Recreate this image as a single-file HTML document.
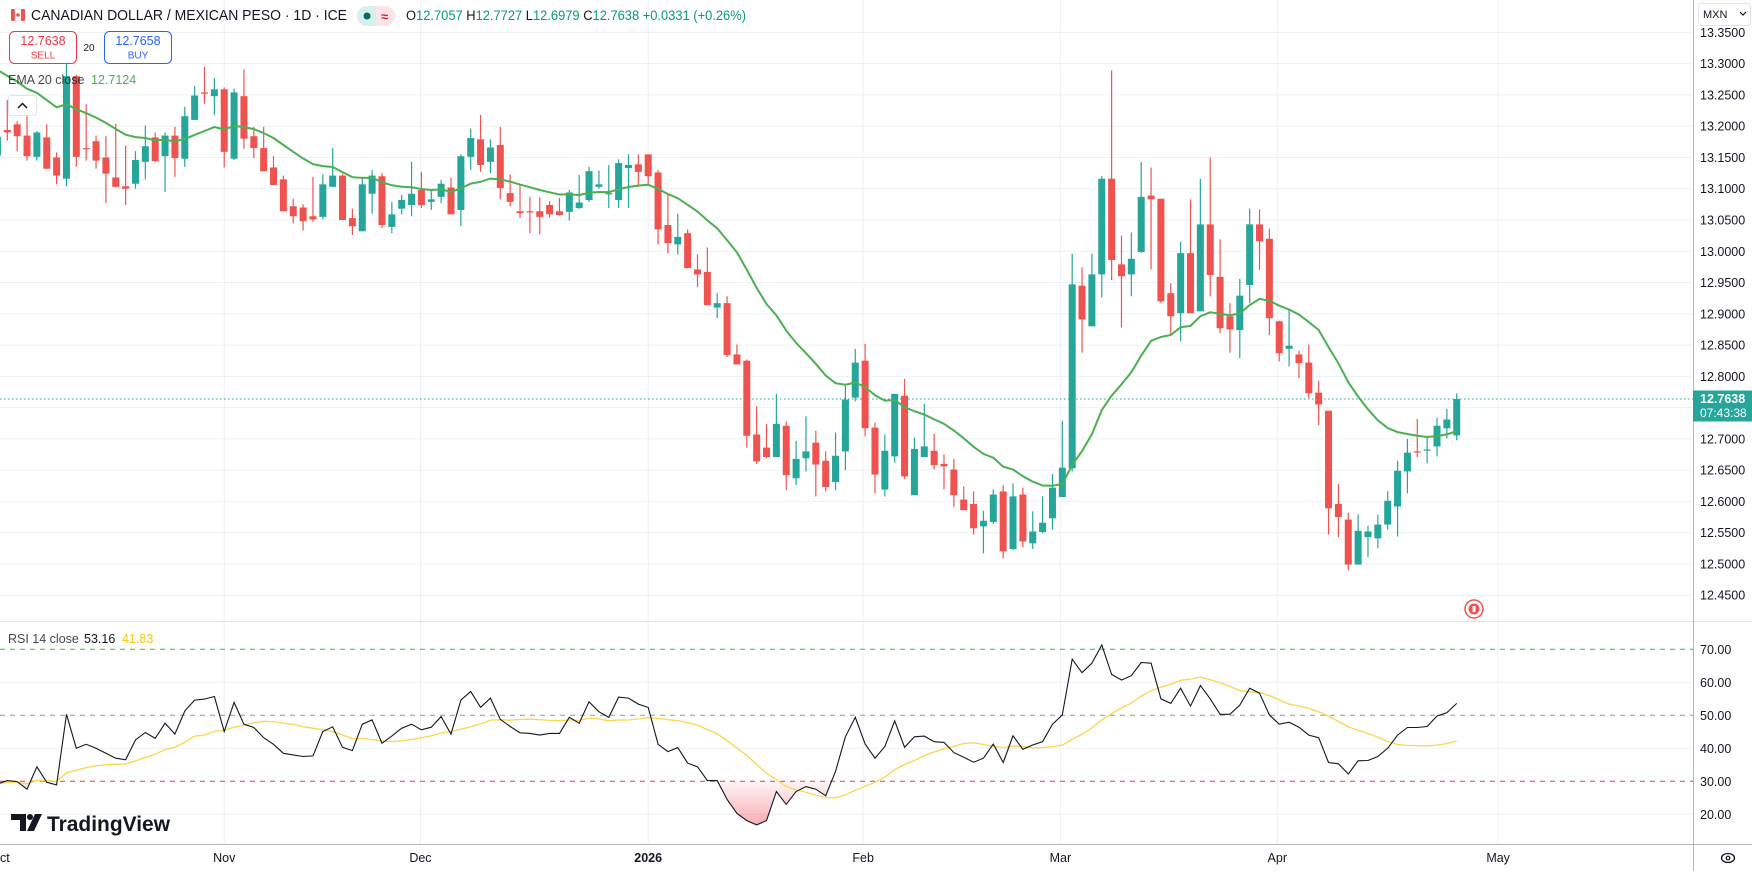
<!DOCTYPE html>
<html><head><meta charset="utf-8"><title>CADMXN chart</title>
<style>
html,body{margin:0;padding:0;background:#fff;width:1752px;height:871px;overflow:hidden}
svg{display:block;font-family:"Liberation Sans",sans-serif}
</style></head>
<body>
<svg id="chart" width="1752" height="871" viewBox="0 0 1752 871" xmlns="http://www.w3.org/2000/svg">
<defs>
<linearGradient id="osGrad" gradientUnits="userSpaceOnUse" x1="0" y1="781.3" x2="0" y2="830">
<stop offset="0" stop-color="#f23645" stop-opacity="0.05"/>
<stop offset="1" stop-color="#f23645" stop-opacity="0.45"/>
</linearGradient>
<linearGradient id="obGrad" gradientUnits="userSpaceOnUse" x1="0" y1="649.3" x2="0" y2="630">
<stop offset="0" stop-color="#089981" stop-opacity="0.05"/>
<stop offset="1" stop-color="#089981" stop-opacity="0.4"/>
</linearGradient>
<clipPath id="belowOS"><rect x="0" y="781.3" width="1693" height="63"/></clipPath>
<clipPath id="aboveOB"><rect x="0" y="622" width="1693" height="27.3"/></clipPath>
<clipPath id="pricePane"><rect x="0" y="0" width="1693" height="621"/></clipPath>
<clipPath id="rsiPane"><rect x="0" y="622" width="1693" height="222"/></clipPath>
</defs>
<g id="grid"></g>
<g id="priceGroup" clip-path="url(#pricePane)"></g>
<g id="rsiGroup" clip-path="url(#rsiPane)"></g>
<g id="axes"></g>

<g>
  <g>
    <rect x="11" y="9" width="4" height="12" rx="1" fill="#ef5350"/>
    <rect x="15" y="9" width="6" height="12" fill="#fff" stroke="#f5c6c6" stroke-width="0.5"/>
    <rect x="21" y="9" width="4" height="12" rx="1" fill="#ef5350"/>
    <circle cx="18" cy="15" r="1.8" fill="#ef5350"/>
  </g>
  <text x="31" y="20" font-size="14.5" fill="#131722" textLength="316" lengthAdjust="spacingAndGlyphs">CANADIAN DOLLAR / MEXICAN PESO · 1D · ICE</text>
  <g>
    <rect x="357" y="6" width="38" height="20" rx="10" fill="#d6f0ec"/>
    <path d="M376 6 h9 a10 10 0 0 1 0 20 h-9 z" fill="#fde4e7"/>
    <circle cx="367" cy="16" r="3.5" fill="#0c6b5e"/>
    <text x="381" y="21" font-size="13" fill="#d81b3c" font-weight="bold">≈</text>
  </g>
  <text x="406" y="20" font-size="13.5" fill="#089981" textLength="340" lengthAdjust="spacingAndGlyphs"><tspan fill="#131722">O</tspan>12.7057 <tspan fill="#131722">H</tspan>12.7727 <tspan fill="#131722">L</tspan>12.6979 <tspan fill="#131722">C</tspan>12.7638 +0.0331 (+0.26%)</text>

  <g>
    <rect x="9.5" y="31.5" width="67" height="32" rx="5" fill="#fff" stroke="#f23645"/>
    <text x="43" y="45" font-size="12.5" fill="#f23645" text-anchor="middle">12.7638</text>
    <text x="43" y="58.5" font-size="10" fill="#f23645" text-anchor="middle">SELL</text>
  </g>
  <text x="89" y="51" font-size="10" fill="#131722" text-anchor="middle">20</text>
  <g>
    <rect x="104.5" y="31.5" width="67" height="32" rx="5" fill="#fff" stroke="#2962ff"/>
    <text x="138" y="45" font-size="12.5" fill="#2962ff" text-anchor="middle">12.7658</text>
    <text x="138" y="58.5" font-size="10" fill="#2962ff" text-anchor="middle">BUY</text>
  </g>
  <g>
    <text x="8" y="84" font-size="12.5" fill="#131722" fill-opacity="0.8">EMA 20 close</text>
    <text x="91" y="84" font-size="12.5" fill="#4caf50">12.7124</text>
  </g>
  <g>
    <rect x="8.5" y="95.5" width="28" height="20" rx="3" fill="#fff" stroke="#e0e3eb"/>
    <path d="M18 108 l4.5 -4.5 l4.5 4.5" fill="none" stroke="#131722" stroke-width="1.5"/>
  </g>
</g>

<g>
  <text x="8" y="643" font-size="12.5" fill="#131722" fill-opacity="0.8">RSI 14 close</text>
  <text x="84" y="643" font-size="12.5" fill="#131722">53.16</text>
  <text x="122" y="643" font-size="12.5" fill="#f9c80e">41.83</text>
</g>

<g>
  <path d="M11 814 h15 v17 h-6 v-11 h-9 z" fill="#131722"/>
  <circle cx="30" cy="817" r="3" fill="#131722"/>
  <path d="M35 814 h7 l-8 17 h-7 z" fill="#131722"/>
  <text x="47" y="831" font-size="21" font-weight="bold" fill="#131722" textLength="123" lengthAdjust="spacingAndGlyphs">TradingView</text>
</g>

<g>
  <circle cx="1474" cy="609" r="9" fill="#fff" stroke="#ef5350" stroke-width="1.5"/>
  <circle cx="1474" cy="609" r="5.5" fill="#ef5350"/>
  <rect x="1472.5" y="606" width="3" height="6" fill="#fff"/>
</g>

<g>
  <rect x="1698.5" y="3.5" width="52" height="22" rx="3" fill="#fff" stroke="#e0e3eb"/>
  <text x="1703" y="18" font-size="11" fill="#131722">MXN</text>
  <path d="M1740 12 l3 3 l3 -3" fill="none" stroke="#131722" stroke-width="1.2"/>
</g>
<g>
  <ellipse cx="1728" cy="858" rx="6.5" ry="4.5" fill="none" stroke="#131722" stroke-width="1.3"/>
  <circle cx="1728" cy="858" r="1.8" fill="none" stroke="#131722" stroke-width="1.2"/>
</g>
</svg>
<script>
const opens=[13.153,13.194,13.203,13.185,13.151,13.182,13.150,13.116,13.280,13.165,13.176,13.150,13.118,13.104,13.108,13.143,13.182,13.152,13.185,13.148,13.210,13.254,13.248,13.259,13.148,13.248,13.184,13.165,13.134,13.115,13.072,13.070,13.056,13.055,13.103,13.121,13.053,13.032,13.092,13.120,13.039,13.068,13.074,13.098,13.079,13.087,13.102,13.066,13.151,13.179,13.143,13.170,13.093,13.064,13.064,13.064,13.074,13.064,13.063,13.069,13.082,13.103,13.092,13.082,13.133,13.139,13.155,13.126,13.042,13.011,13.029,12.971,12.967,12.910,12.917,12.835,12.825,12.707,12.686,12.671,12.721,12.637,12.669,12.694,12.665,12.631,12.680,12.766,12.825,12.718,12.619,12.672,12.769,12.610,12.671,12.681,12.660,12.651,12.603,12.596,12.560,12.567,12.616,12.524,12.611,12.533,12.551,12.573,12.607,12.653,12.945,12.880,12.963,13.116,12.979,12.963,12.999,13.089,13.084,12.933,12.901,12.997,12.904,13.043,12.959,12.896,12.874,12.946,13.043,13.020,12.888,12.844,12.835,12.822,12.774,12.745,12.596,12.571,12.499,12.543,12.541,12.563,12.592,12.648,12.680,12.682,12.688,12.717,12.7057];
const highs=[13.190,13.242,13.208,13.231,13.192,13.203,13.158,13.305,13.282,13.235,13.185,13.184,13.204,13.169,13.160,13.201,13.190,13.190,13.199,13.231,13.264,13.295,13.277,13.262,13.260,13.291,13.199,13.199,13.152,13.121,13.084,13.075,13.119,13.123,13.165,13.124,13.068,13.118,13.130,13.125,13.079,13.090,13.143,13.127,13.097,13.114,13.118,13.155,13.196,13.218,13.179,13.199,13.123,13.106,13.087,13.086,13.080,13.085,13.098,13.122,13.135,13.129,13.138,13.147,13.155,13.155,13.155,13.130,13.092,13.060,13.035,12.995,13.006,12.933,12.928,12.851,12.827,12.752,12.724,12.772,12.728,12.697,12.736,12.713,12.680,12.710,12.785,12.844,12.852,12.726,12.707,12.772,12.796,12.702,12.756,12.708,12.675,12.668,12.624,12.616,12.585,12.619,12.626,12.629,12.622,12.584,12.608,12.644,12.729,12.996,12.974,12.996,13.120,13.289,13.025,13.030,13.143,13.134,13.084,12.949,13.015,13.083,13.116,13.150,13.019,12.917,12.956,13.068,13.067,13.036,12.889,12.907,12.841,12.851,12.793,12.745,12.628,12.582,12.579,12.561,12.579,12.616,12.665,12.700,12.732,12.705,12.734,12.748,12.7727];
const lows=[13.140,13.177,13.160,13.145,13.145,13.132,13.107,13.104,13.135,13.145,13.132,13.077,13.103,13.074,13.100,13.115,13.143,13.095,13.119,13.135,13.210,13.236,13.218,13.134,13.146,13.164,13.149,13.128,13.106,13.064,13.045,13.033,13.047,13.051,13.103,13.050,13.026,13.032,13.060,13.037,13.029,13.059,13.056,13.069,13.066,13.077,13.059,13.040,13.130,13.127,13.125,13.083,13.072,13.053,13.029,13.027,13.054,13.057,13.049,13.068,13.079,13.100,13.069,13.069,13.069,13.104,13.108,13.011,12.997,12.995,12.973,12.943,12.914,12.893,12.831,12.819,12.686,12.660,12.669,12.671,12.618,12.626,12.648,12.608,12.616,12.618,12.650,12.760,12.704,12.613,12.608,12.662,12.636,12.610,12.671,12.651,12.619,12.591,12.586,12.547,12.517,12.564,12.509,12.522,12.527,12.524,12.549,12.555,12.607,12.648,12.838,12.880,12.926,12.954,12.878,12.928,12.997,12.971,12.917,12.867,12.856,12.901,12.904,12.928,12.869,12.838,12.829,12.917,12.970,12.866,12.824,12.816,12.797,12.765,12.722,12.547,12.543,12.490,12.499,12.511,12.525,12.555,12.544,12.613,12.671,12.661,12.672,12.701,12.6979];
const closes=[13.183,13.190,13.184,13.152,13.190,13.132,13.121,13.280,13.151,13.164,13.145,13.124,13.103,13.100,13.146,13.168,13.144,13.185,13.149,13.216,13.249,13.252,13.259,13.159,13.254,13.180,13.165,13.128,13.106,13.064,13.056,13.048,13.051,13.107,13.121,13.050,13.040,13.107,13.121,13.042,13.059,13.082,13.092,13.074,13.083,13.108,13.059,13.152,13.181,13.138,13.166,13.101,13.079,13.061,13.063,13.055,13.059,13.058,13.094,13.078,13.128,13.107,13.093,13.141,13.138,13.127,13.120,13.035,13.013,13.023,12.973,12.963,12.914,12.917,12.834,12.819,12.705,12.664,12.671,12.724,12.642,12.668,12.680,12.659,12.623,12.673,12.763,12.822,12.717,12.643,12.681,12.772,12.640,12.684,12.688,12.658,12.656,12.610,12.586,12.557,12.569,12.611,12.520,12.608,12.536,12.552,12.566,12.622,12.654,12.947,12.891,12.963,13.116,12.986,12.960,12.988,13.087,13.083,12.920,12.896,12.997,12.901,13.043,12.962,12.877,12.875,12.929,13.043,13.016,12.893,12.837,12.849,12.821,12.773,12.755,12.589,12.575,12.499,12.553,12.552,12.563,12.601,12.649,12.678,12.679,12.683,12.721,12.731,12.7638];
const rsiValues=[29.2,30.2,29.9,27.6,34.4,29.7,28.9,50.3,40.0,41.2,40.0,38.5,37.0,36.5,42.5,44.8,43.0,47.6,44.3,51.3,54.6,54.9,55.7,45.1,53.9,47.3,46.3,43.2,41.2,38.5,38.0,37.5,37.7,45.1,46.5,40.3,39.3,47.3,48.6,41.5,43.7,46.1,47.3,45.6,46.4,49.6,44.3,54.6,57.2,52.4,55.2,48.8,46.6,44.7,44.5,44.0,44.5,44.5,49.4,47.6,54.1,51.1,49.4,55.5,55.2,53.4,52.4,41.2,39.0,40.2,35.5,34.4,30.2,30.2,24.5,20.3,18.1,16.8,18.1,26.9,23.0,26.9,28.4,27.6,25.6,33.0,43.5,49.4,41.3,37.0,40.5,48.3,40.3,43.5,43.7,42.0,41.8,38.7,37.3,35.8,37.0,41.3,35.7,43.8,39.7,41.0,42.0,47.3,50.1,67.0,62.9,65.8,71.3,62.4,60.7,62.0,66.0,65.8,55.0,53.6,58.2,52.8,59.0,55.0,50.3,50.3,53.1,58.2,56.7,50.1,47.3,47.9,46.4,44.0,43.2,35.7,35.3,32.2,36.2,36.3,37.5,40.0,44.0,46.3,46.3,46.6,49.8,50.8,53.6];
const emaSeed=13.29;
const emaPeriod=20;
const rsiMaPeriod=14;
const priceTicks=[13.35,13.30,13.25,13.20,13.15,13.10,13.05,13.00,12.95,12.90,12.85,12.80,12.75,12.70,12.65,12.60,12.55,12.50,12.45];
const rsiTicks=[70,60,50,40,30,20];
const monthLabels=["ct","Nov","Dec","2026","Feb","Mar","Apr","May"];
const monthBarIndex=[-0.9,23,42.9,66,87.8,107.8,129.8,152.2];
const lastPrice=12.7638;
const countdown="07:43:38";

const NS="http://www.w3.org/2000/svg";
const xOf=i=>-2.56+9.86*i;
const yP=p=>63.65+(13.3-p)*625.4;
const yR=v=>649.3+(70-v)*3.3;
const AX=1693;
function mk(tag,attrs,parent){const e=document.createElementNS(NS,tag);for(const k in attrs)e.setAttribute(k,attrs[k]);parent.appendChild(e);return e;}
const grid=document.getElementById('grid'),pg=document.getElementById('priceGroup'),rg=document.getElementById('rsiGroup'),axes=document.getElementById('axes');

priceTicks.forEach(p=>{const l=mk('line',{x1:0,x2:AX,y1:yP(p),y2:yP(p),stroke:'#edf0f4','stroke-width':1},grid);

});
[60,40,20].forEach(v=>{const l=mk('line',{x1:0,x2:AX,y1:yR(v),y2:yR(v),stroke:'#edf0f4','stroke-width':1},grid);

});
monthBarIndex.forEach((bi,k)=>{if(k===0)return;const x=xOf(bi);const l=mk('line',{x1:x,x2:x,y1:0,y2:844,stroke:'#edf0f4','stroke-width':1},grid);

});

const dl=mk('line',{x1:0,x2:AX,y1:yP(lastPrice),y2:yP(lastPrice),stroke:'#26a69a','stroke-width':1,'stroke-dasharray':'1.5 2.5'},pg);



for(let i=0;i<closes.length;i++){
  const o=opens[i],h=highs[i],l=lows[i],c=closes[i];
  const col=c>=o?'#26a69a':'#ef5350';
  const x=xOf(i);
  const g=mk('g',{},pg);
  
  
  mk('line',{x1:x,x2:x,y1:yP(h),y2:yP(l),stroke:col,'stroke-width':1.2},g);
  const top=yP(Math.max(o,c)),bot=yP(Math.min(o,c));
  mk('rect',{x:x-3.5,y:top,width:7,height:Math.max(1.2,bot-top),fill:col},g);
}
const ema=[];closes.forEach((c,i)=>{ema.push(i===0?emaSeed:(c*2/(emaPeriod+1)+ema[i-1]*(1-2/(emaPeriod+1))));});
const emaPath=mk('polyline',{points:ema.map((v,i)=>xOf(i).toFixed(1)+','+yP(v).toFixed(1)).join(' '),fill:'none',stroke:'#4caf50','stroke-width':2},pg);



[[70,'#4caf50','rsi-overbought-line'],[50,'#9598a1','rsi-midline'],[30,'#f23645','rsi-oversold-line']].forEach(([v,c,n])=>{
  const l=mk('line',{x1:0,x2:AX,y1:yR(v),y2:yR(v),stroke:c,'stroke-width':1,'stroke-dasharray':'5 5'},rg);
  
  
});
const rsiPts=rsiValues.map((v,i)=>xOf(i).toFixed(1)+','+yR(v).toFixed(1));
const xs=xOf(0),xe=xOf(rsiValues.length-1);
const osFill=mk('path',{d:'M'+xs+','+yR(30)+' L'+rsiPts.join(' L')+' L'+xe+','+yR(30)+' Z',fill:'url(#osGrad)','clip-path':'url(#belowOS)'},rg);


const obFill=mk('path',{d:'M'+xs+','+yR(70)+' L'+rsiPts.join(' L')+' L'+xe+','+yR(70)+' Z',fill:'url(#obGrad)','clip-path':'url(#aboveOB)'},rg);


const rsiMa=rsiValues.map((v,i)=>{const s=rsiValues.slice(Math.max(0,i-rsiMaPeriod+1),i+1);return s.reduce((a,b)=>a+b,0)/s.length;});
const maLine=mk('polyline',{points:rsiMa.map((v,i)=>xOf(i).toFixed(1)+','+yR(v).toFixed(1)).join(' '),fill:'none',stroke:'#fbd54a','stroke-width':1.3},rg);


const rsiLine=mk('polyline',{points:rsiPts.join(' '),fill:'none',stroke:'#131722','stroke-width':1.1},rg);



const sep1=mk('line',{x1:0,x2:1752,y1:621.5,y2:621.5,stroke:'#e0e3eb','stroke-width':1},axes);


const sep2=mk('line',{x1:0,x2:1752,y1:844.5,y2:844.5,stroke:'#b2b5be','stroke-width':1},axes);


const vax=mk('line',{x1:AX+0.5,x2:AX+0.5,y1:0,y2:871,stroke:'#b2b5be','stroke-width':1},axes);



priceTicks.forEach(p=>{const y=yP(p);const t=mk('text',{x:1700,y:y+4.5,'font-size':12.5,fill:'#131722'},axes);t.textContent=p.toFixed(4);

});
rsiTicks.forEach(v=>{const t=mk('text',{x:1700,y:yR(v)+4.5,'font-size':12.5,fill:'#131722'},axes);t.textContent=v.toFixed(2);

});
const tag=mk('g',{},axes);


const ty=yP(lastPrice);
mk('rect',{x:AX,y:ty-8.5,width:1752-AX,height:31,fill:'#26a69a'},tag);
const t1=mk('text',{x:1700,y:ty+4,'font-size':12.5,'font-weight':'bold',fill:'#fff'},tag);t1.textContent=lastPrice.toFixed(4);
const t2=mk('text',{x:1700,y:ty+18,'font-size':12,fill:'#fff'},tag);t2.textContent=countdown;
monthLabels.forEach((m,k)=>{const x=xOf(monthBarIndex[k]);const t=mk('text',{x:k===0?0:x,y:862,'font-size':12.5,fill:'#131722','text-anchor':k===0?'start':'middle','font-weight':m==='2026'?'bold':'normal'},axes);t.textContent=m;

});
</script>
</body></html>
